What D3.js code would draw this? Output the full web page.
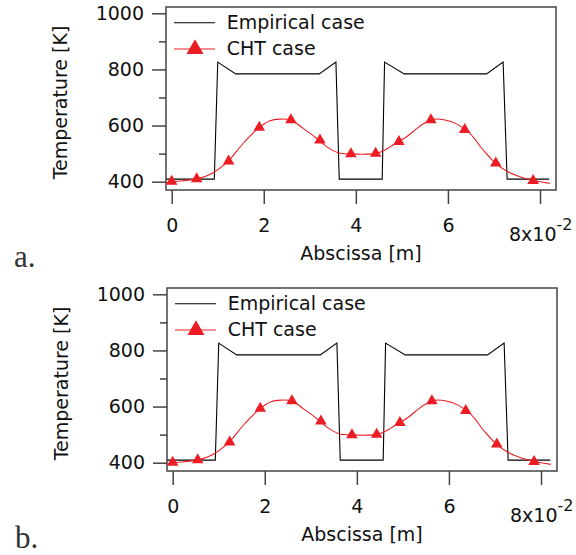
<!DOCTYPE html>
<html>
<head>
<meta charset="utf-8">
<script src="https://cdn.jsdelivr.net/npm/d3@7"></script>
<style>
  body { margin: 0; background: #fff; }
  svg { display: block; }
  text { font-family: "DejaVu Sans", sans-serif; }
</style>
</head>
<body>
<svg id="chart" width="576" height="555"></svg>
<script>
// Empirical case (black step-like profile)
const empX = [-0.12, 0.925, 1.0, 1.39, 3.205, 3.567, 3.639, 4.572, 4.624, 5.05, 6.839, 7.199, 7.286, 8.2];
const empT = [409, 409, 826, 784, 784, 826, 409, 409, 826, 784, 784, 826, 409, 409];

// CHT case smooth curve
const chtX = [-0.124, 0.007, 0.543, 0.903, 1.229, 1.554, 1.88, 2.134, 2.351, 2.584, 2.857, 3.148, 3.365, 3.617,
              3.908, 4.16, 4.45, 4.631, 4.811, 5.102, 5.428, 5.68, 5.934, 6.188, 6.477, 6.765, 7.019, 7.273,
              7.562, 7.851, 8.213];
const chtT = [394, 399, 410, 432, 474, 537, 590, 617, 623, 620, 590, 555, 525, 503,
              499, 498, 501, 513, 531, 560, 602, 622, 620, 606, 572, 513, 468, 438,
              418, 404, 394];

// CHT case markers
const markX = [0, 0.543, 1.237, 1.902, 2.59, 3.22, 3.893, 4.43, 4.935, 5.63, 6.365, 7.04, 7.85];
const markT = [401, 410, 473, 593, 620, 548, 499, 501, 543, 620, 585, 466, 404];

const yMajor = [400, 600, 800, 1000];
const yMinor = [500, 700, 900];
const xMajor = [0, 2, 4, 6, 8];

const panels = [
  { label: 'a.', dx: 0, dy: 0 },
  { label: 'b.', dx: 1, dy: 281 }
];

const svg = d3.select('#chart');
const red = '#ec1c24';
const frameColor = '#444';

// frame box in pixels (per panel)
const boxL = 166, boxR = 556, boxT = 7, boxB = 190;

const x = d3.scaleLinear().domain([0, 8]).range([171.7, 540]);
const y = d3.scaleLinear().domain([400, 1000]).range([181.7, 13.3]);

const empLine = d3.line()
  .x((d, i) => x(empX[i]))
  .y((d, i) => y(empT[i]));

const chtLine = d3.line()
  .x((d, i) => x(chtX[i]))
  .y((d, i) => y(chtT[i]))
  .curve(d3.curveCatmullRom.alpha(0.5));

const tri = d3.symbol().type(d3.symbolTriangle).size(58);
const triBig = d3.symbol().type(d3.symbolTriangle).size(125);

panels.forEach(p => {
  const g = svg.append('g').attr('transform', `translate(${p.dx}, ${p.dy})`);

  // y axis, major + minor ticks
  g.append('g')
    .attr('transform', `translate(${boxL}, 0)`)
    .call(d3.axisLeft(y).tickValues(yMajor).tickSize(14).tickPadding(8).tickFormat(d3.format('d')));
  g.append('g')
    .attr('transform', `translate(${boxL}, 0)`)
    .call(d3.axisLeft(y).tickValues(yMinor).tickSize(7).tickFormat(''));

  // x axis
  g.append('g')
    .attr('transform', `translate(0, ${boxB})`)
    .call(d3.axisBottom(x).tickValues(xMajor).tickSize(14).tickPadding(15)
      .tickFormat(d => d === 8 ? '' : d));

  g.selectAll('.domain').remove();
  g.selectAll('.tick line').attr('stroke', frameColor).attr('stroke-width', 1.5);
  g.selectAll('.tick text').style('font-size', '19px').attr('fill', '#111');

  // exponent label at the last tick
  const expo = g.append('text')
    .attr('x', x(8) - 31)
    .attr('y', 240.7)
    .style('font-size', '19px')
    .attr('fill', '#111');
  expo.append('tspan').text('8x10');
  expo.append('tspan').attr('dy', -11).style('font-size', '16px').text('-2');

  // frame
  g.append('rect')
    .attr('x', boxL).attr('y', boxT)
    .attr('width', boxR - boxL).attr('height', boxB - boxT)
    .attr('fill', 'none')
    .attr('stroke', frameColor)
    .attr('stroke-width', 1.5);

  // empirical line
  g.append('path')
    .datum(empX)
    .attr('d', empLine)
    .attr('fill', 'none')
    .attr('stroke', '#000')
    .attr('stroke-width', 1.1);

  // CHT curve
  g.append('path')
    .datum(chtX)
    .attr('d', chtLine)
    .attr('fill', 'none')
    .attr('stroke', red)
    .attr('stroke-width', 1.1);

  g.selectAll('path.mark')
    .data(markX)
    .enter()
    .append('path')
    .attr('class', 'mark')
    .attr('d', tri)
    .attr('transform', (d, i) => `translate(${x(d)}, ${y(markT[i])})`)
    .attr('fill', red);

  // legend
  g.append('line')
    .attr('x1', 174).attr('x2', 215).attr('y1', 22.7).attr('y2', 22.7)
    .attr('stroke', '#000').attr('stroke-width', 1.1);
  g.append('text')
    .attr('x', 226.7).attr('y', 28.5)
    .style('font-size', '19px').attr('fill', '#111')
    .text('Empirical case');
  g.append('line')
    .attr('x1', 174).attr('x2', 215).attr('y1', 49).attr('y2', 49)
    .attr('stroke', red).attr('stroke-width', 1.1);
  g.append('path')
    .attr('d', triBig)
    .attr('transform', 'translate(195, 49)')
    .attr('fill', red);
  g.append('text')
    .attr('x', 226.7).attr('y', 55)
    .style('font-size', '19px').attr('fill', '#111')
    .text('CHT case');

  // axis titles
  g.append('text')
    .attr('transform', `translate(67, ${(boxT + boxB) / 2 + 4}) rotate(-90)`)
    .attr('text-anchor', 'middle')
    .style('font-size', '19px').attr('fill', '#111')
    .text('Temperature [K]');
  g.append('text')
    .attr('x', (boxL + boxR) / 2)
    .attr('y', 260)
    .attr('text-anchor', 'middle')
    .style('font-size', '19px').attr('fill', '#111')
    .text('Abscissa [m]');

  // panel letter
  g.append('text')
    .attr('x', 14).attr('y', 266.5)
    .style('font-family', '"Liberation Serif", "DejaVu Serif", serif')
    .style('font-size', '31px')
    .attr('fill', '#333')
    .text(p.label);
});
</script>
</body>
</html>
